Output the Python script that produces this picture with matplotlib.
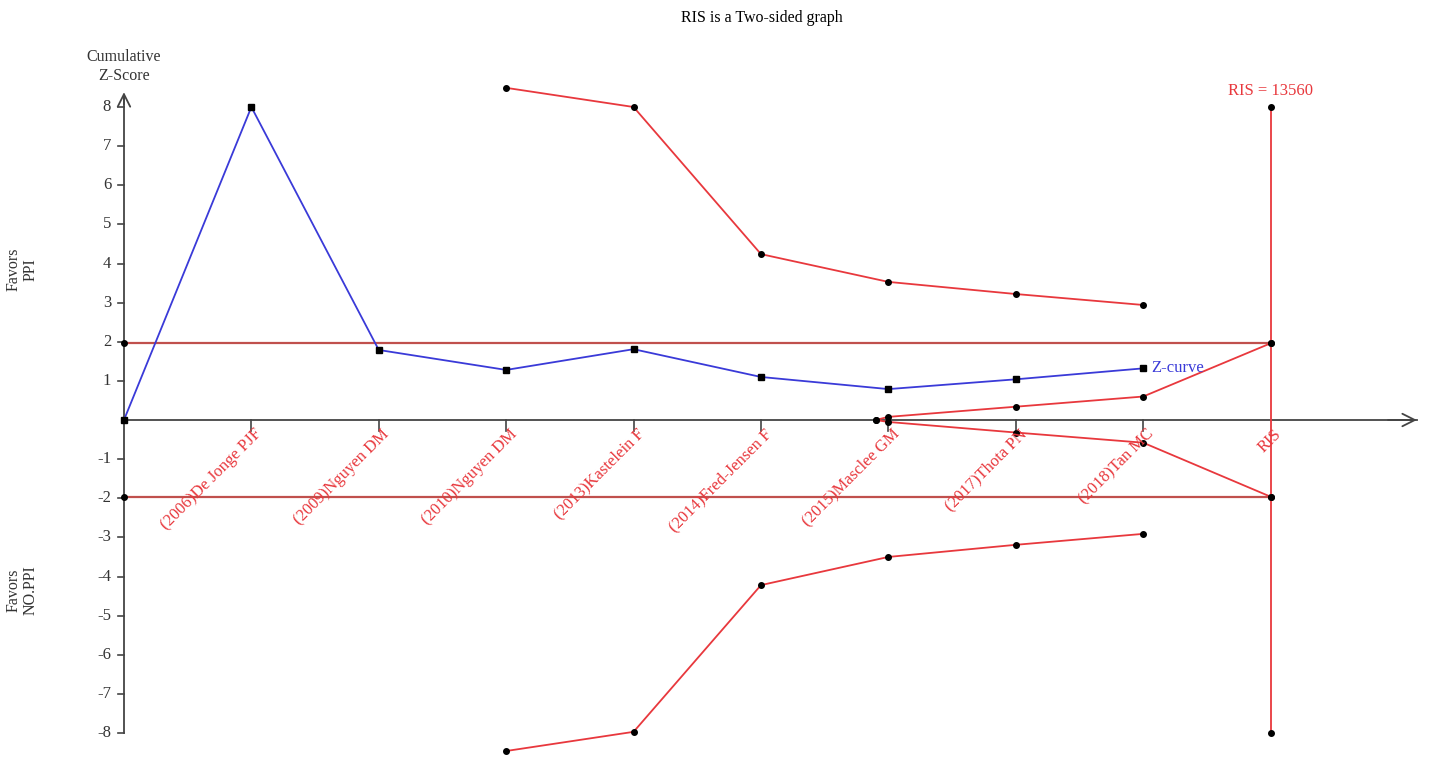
import numpy as np
import matplotlib
matplotlib.use('Agg')
import matplotlib.pyplot as plt

plt.rcParams['font.family'] = ['Liberation Serif', 'DejaVu Serif']

# 研究标签 (x 轴位置 1..8)，最后一个是 RIS
study_labels = ['(2006)De Jonge PJF', '(2009)Nguyen DM', '(2010)Nguyen DM',
                '(2013)Kastelein F', '(2014)Fred-Jensen F', '(2015)Masclee GM',
                '(2017)Thota PN', '(2018)Tan MC', 'RIS']

# Z 曲线
z_pos = [0, 1, 2, 3, 4, 5, 6, 7, 8]
z_vals = [0.0, 8.0, 1.79, 1.28, 1.81, 1.10, 0.79, 1.04, 1.32]

# 监测边界 (上/下)
bound_pos = [3, 4, 5, 6, 7, 8]
upper_bound = [8.49, 8.00, 4.24, 3.53, 3.22, 2.94]
lower_bound = [-8.46, -7.97, -4.22, -3.50, -3.19, -2.91]

# 无效边界 (内楔形)
futil_pos = [5.9, 6, 7, 8, 9]
futil_upper = [0.0, 0.08, 0.34, 0.60, 1.96]
futil_lower = [0.0, -0.05, -0.32, -0.58, -1.96]

# 常规界值
conv_z = 1.96
ris_pos = 9
ris_marks = [8, 1.96, -1.96, -8]
ris_text = 'RIS = 13560'
yticks = [8, 7, 6, 5, 4, 3, 2, 1, -1, -2, -3, -4, -5, -6, -7, -8]

RED = '#e8383d'
DARKRED = '#c0504d'
BLUE = '#3a3ad8'
AXC = '#444444'

fig = plt.figure(figsize=(14.32, 7.62), dpi=100)
ax = fig.add_axes([0, 0, 1, 1])
ax.set_xlim(-0.973, 10.267)
ax.set_ylim(-8.741, 10.735)
ax.axis('off')

# 坐标轴
ax.plot([0, 0], [-8.0, 8.3], color=AXC, lw=1.3)
ax.plot([0, 10.15], [0, 0], color=AXC, lw=1.3)
ax.annotate('', xy=(0, 8.45), xytext=(0, 8.0),
            arrowprops=dict(arrowstyle='->,head_length=0.9,head_width=0.45', color=AXC, lw=1.3))
ax.annotate('', xy=(10.17, 0), xytext=(9.9, 0),
            arrowprops=dict(arrowstyle='->,head_length=0.9,head_width=0.45', color=AXC, lw=1.3))

# y 轴刻度
for t in yticks:
    ax.plot([-0.05, 0], [t, t], color=AXC, lw=1.2)
    ax.text(-0.1, t, str(t), ha='right', va='center', fontsize=12, color='#333333')

# x 轴刻度
for i in range(1, 9):
    ax.plot([i, i], [0, -0.28], color=AXC, lw=1.2)

# x 轴标签
for i, lab in enumerate(study_labels, start=1):
    ax.text(i + 0.02, -0.15, lab, rotation=45, ha='right', va='top',
            rotation_mode='anchor', fontsize=12, color=RED)

# 常规界值线
ax.plot([0, ris_pos], [conv_z, conv_z], color=DARKRED, lw=1.6)
ax.plot([0, ris_pos], [-conv_z, -conv_z], color=DARKRED, lw=1.6)
ax.plot([0, 0], [conv_z, -conv_z], 'o', color='black', ms=4, ls='none')

# 监测边界
ax.plot(bound_pos, upper_bound, '-o', color=RED, lw=1.3, ms=4, mfc='black', mec='black')
ax.plot(bound_pos, lower_bound, '-o', color=RED, lw=1.3, ms=4, mfc='black', mec='black')
ax.plot(futil_pos, futil_upper, '-o', color=RED, lw=1.3, ms=4, mfc='black', mec='black')
ax.plot(futil_pos, futil_lower, '-o', color=RED, lw=1.3, ms=4, mfc='black', mec='black')

# RIS 竖线
ax.plot([ris_pos, ris_pos], [min(ris_marks), max(ris_marks)], color=RED, lw=1.3)
ax.plot([ris_pos] * len(ris_marks), ris_marks, 'o', color='black', ms=4)
ax.text(ris_pos, 8.2, ris_text, ha='center', va='bottom', fontsize=12, color=RED)

# Z 曲线
ax.plot(z_pos, z_vals, '-s', color=BLUE, lw=1.3, ms=5, mfc='black', mec='black')
ax.text(z_pos[-1] + 0.06, z_vals[-1], 'Z-curve', ha='left', va='center', fontsize=12, color=BLUE)

# 标题与轴说明
fig.text(0.532, 0.976, 'RIS is a Two-sided graph', ha='center', va='center', fontsize=11.5)
ax.text(0, 8.6, 'Cumulative\nZ-Score', ha='center', va='bottom', fontsize=11.5,
        linespacing=1.25, color='#333333')
fig.text(0.0155, 0.646, 'Favors\nPPI', ha='center', va='center', rotation=90,
         fontsize=11.5, linespacing=1.1, color='#333333')
fig.text(0.0155, 0.226, 'Favors\nNO.PPI', ha='center', va='center', rotation=90,
         fontsize=11.5, linespacing=1.1, color='#333333')

fig.savefig('out.png', dpi=100)
